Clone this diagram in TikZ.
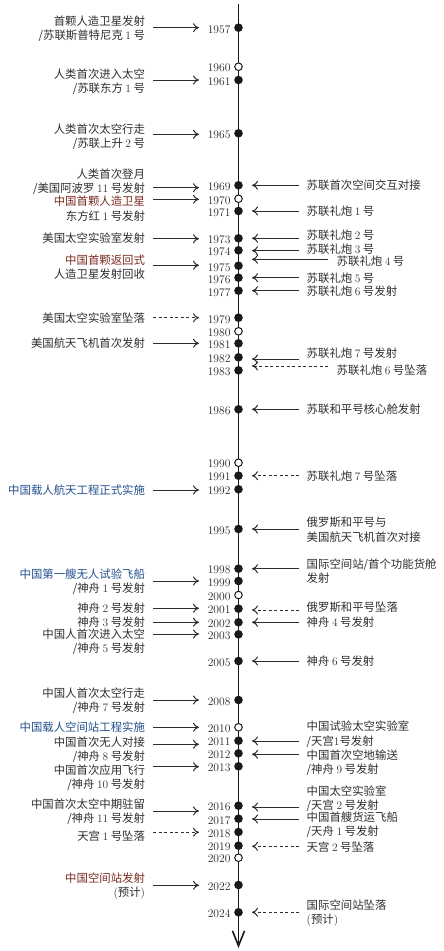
\documentclass[tikz,border=0pt]{standalone}
\usepackage{fontspec}
\newfontfamily\cjk{Noto Sans CJK SC}
\usetikzlibrary{arrows.meta}
\definecolor{txt}{HTML}{2E2E2E}
\definecolor{redc}{HTML}{7A2A1E}
\definecolor{bluec}{HTML}{24508C}
\newcommand\nm[1]{{\rmfamily #1}}
\newcommand\rc[1]{\textcolor{redc}{#1}}
\newcommand\bc[1]{\textcolor{bluec}{#1}}
\tikzset{
  every node/.style={inner sep=0pt, outer sep=0pt},
  ltxt/.style={anchor=east, align=right, text=txt, font={\cjk\fontsize{11.4}{14.2}\selectfont}},
  rtxt/.style={anchor=west, align=left, text=txt, font={\cjk\fontsize{11.4}{14.2}\selectfont}},
  yrlab/.style={anchor=east, text=black!85, font={\fontsize{11.6}{13}\selectfont}},
  fdot/.style={circle, fill=black!90, minimum size=8.6pt},
  odot/.style={circle, draw=black!90, fill=white, line width=1pt, minimum size=7.6pt},
  arr/.style={draw=txt, line width=1pt, -{To[length=6pt,width=9pt]}},
  darr/.style={arr, dash pattern=on 3pt off 2.5pt},
  axisln/.style={line width=1.6pt, draw=black!90, -{Straight Barb[length=15pt,width=12pt]}},
}
% left event: name, text y, arrow y, style, text
\newcommand\lev[5]{%
  \node[ltxt] (L#1) at (145,#2) {#5};
  \coordinate (La#1) at (153,#3);
  \coordinate (Lb#1) at (199,#3);
  \draw[#4] (La#1) -- (Lb#1);}
% right event: name, text x, text y, arrow start x, arrow y, style, text
\newcommand\rev[7]{%
  \node[rtxt] (R#1) at (#2,#3) {#7};
  \coordinate (Ra#1) at (#4,#5);
  \coordinate (Rb#1) at (252,#5);
  \draw[#6] (Ra#1) -- (Rb#1);}
\begin{document}
\begin{tikzpicture}[x=1pt,y=-1pt]
\useasboundingbox (0,0) rectangle (444,951);
% axis
\coordinate (top) at (238.5,4);
\coordinate (bot) at (238.5,948);
\draw[axisln] (top) -- (bot);
% filled years
\foreach \y/\yr in {27.7/1957, 80/1961, 133.3/1965, 185.3/1969, 211/1971, 238.3/1973,
  250.3/1974, 265.7/1975, 277.7/1976, 290.7/1977, 317.7/1979, 343.3/1981, 357.3/1982,
  370.3/1983, 409.3/1986, 475.7/1991, 489.3/1992, 529/1995, 568.7/1998, 581/1999,
  608.7/2001, 622.3/2002, 634.3/2003, 661/2005, 700/2008, 740.7/2011, 753.3/2012,
  766.3/2013, 805.7/2016, 818.7/2017, 832/2018, 845.7/2019, 885/2022, 912.3/2024}{
  \node[fdot] (d\yr) at (238.5,\y) {};
  \node[yrlab] (y\yr) at (230.5,\y+1.5) {\yr};
}
% hollow years
\foreach \y/\yr in {66.7/1960, 198.7/1970, 331.3/1980, 462.7/1990, 595/2000, 727.3/2010, 857.7/2020}{
  \node[odot] (d\yr) at (238.5,\y) {};
  \node[yrlab] (y\yr) at (230.5,\y+1.5) {\yr};
}
% left events
\lev{1957}{28.5}{27.7}{arr}{首颗人造卫星发射\\/苏联斯普特尼克 \nm{1} 号}
\lev{1961}{82}{80}{arr}{人类首次进入太空\\/苏联东方 \nm{1} 号}
\lev{1965}{136.5}{134.3}{arr}{人类首次太空行走\\/苏联上升 \nm{2} 号}
\lev{1969}{181.8}{187.7}{arr}{人类首次登月\\/美国阿波罗 \nm{11} 号发射}
\lev{1970}{208.7}{199.3}{arr}{\rc{中国首颗人造卫星}\\东方红 \nm{1} 号发射}
\lev{1973}{237.7}{238.7}{arr}{美国太空实验室发射}
\lev{1975}{266.8}{265.3}{arr}{\rc{中国首颗返回式}\\人造卫星发射回收}
\lev{1979}{317.7}{317.7}{darr}{美国太空实验室坠落}
\lev{1981}{343.3}{343.3}{arr}{美国航天飞机首次发射}
\lev{1992}{490}{490}{arr}{\bc{中国载人航天工程正式实施}}
\lev{1999}{582}{581}{arr}{\bc{中国第一艘无人试验飞船}\\/神舟 \nm{1} 号发射}
\lev{2001}{608.3}{608.3}{arr}{神舟 \nm{2} 号发射}
\lev{2002}{622.3}{622.3}{arr}{神舟 \nm{3} 号发射}
\lev{2003}{641.8}{634}{arr}{中国人首次进入太空\\/神舟 \nm{5} 号发射}
\lev{2008}{700.8}{700}{arr}{中国人首次太空行走\\/神舟 \nm{7} 号发射}
\lev{2010}{727.3}{727.3}{arr}{\bc{中国载人空间站工程实施}}
\lev{2011}{749.7}{744.3}{arr}{中国首次无人对接\\/神舟 \nm{8} 号发射}
\lev{2013}{777.5}{766.7}{arr}{中国首次应用飞行\\/神舟 \nm{10} 号发射}
\lev{2016}{811.7}{811}{arr}{中国首次太空中期驻留\\/神舟 \nm{11} 号发射}
\lev{2018}{836}{832.3}{darr}{天宫 \nm{1} 号坠落}
\lev{2022}{886}{885.3}{arr}{\rc{中国空间站发射}\\\nm{(}预计\nm{)}}
% right events
\rev{1969}{306.7}{185.3}{299}{185.3}{arr}{苏联首次空间交互对接}
\rev{1971}{306.7}{211}{299}{211}{arr}{苏联礼炮 \nm{1} 号}
\rev{1973}{306.7}{235}{299}{238.3}{arr}{苏联礼炮 \nm{2} 号}
\rev{1974}{306.7}{249.3}{299}{250.7}{arr}{苏联礼炮 \nm{3} 号}
\rev{1974b}{336.7}{261}{328}{259.3}{arr}{苏联礼炮 \nm{4} 号}
\rev{1976}{306.7}{277.7}{299}{277.7}{arr}{苏联礼炮 \nm{5} 号}
\rev{1977}{306.7}{290.7}{299}{290.7}{arr}{苏联礼炮 \nm{6} 号发射}
\rev{1982}{306.7}{352.7}{299}{359}{arr}{苏联礼炮 \nm{7} 号发射}
\rev{1982b}{336.7}{370}{328}{366}{darr}{苏联礼炮 \nm{6} 号坠落}
\rev{1986}{306.7}{409.3}{299}{409.3}{arr}{苏联和平号核心舱发射}
\rev{1991}{306.7}{475.7}{299}{475.7}{darr}{苏联礼炮 \nm{7} 号坠落}
\rev{1995}{306.7}{529.7}{299}{529}{arr}{俄罗斯和平号与\\美国航天飞机首次对接}
\rev{1998}{306.7}{571}{299}{568.7}{arr}{国际空间站/首个功能货舱\\发射}
\rev{2001}{306.7}{607.3}{299}{610}{darr}{俄罗斯和平号坠落}
\rev{2002}{306.7}{622.3}{299}{622.3}{arr}{神舟 \nm{4} 号发射}
\rev{2005}{306.7}{661}{299}{661}{arr}{神舟 \nm{6} 号发射}
\rev{2011}{306.7}{734.2}{299}{741}{arr}{中国试验太空实验室\\/天宫\nm{1}号发射}
\rev{2012}{306.7}{762.8}{299}{754.3}{arr}{中国首次空地输送\\/神舟 \nm{9} 号发射}
\rev{2016}{306.7}{798.8}{299}{807}{arr}{中国太空实验室\\/天宫 \nm{2} 号发射}
\rev{2017}{306.7}{824.8}{299}{819}{arr}{中国首艘货运飞船\\/天舟 \nm{1} 号发射}
\rev{2019}{306.7}{846.7}{299}{846.3}{darr}{天宫 \nm{2} 号坠落}
\rev{2024}{306.7}{912.8}{299}{912.3}{darr}{国际空间站坠落\\\nm{(}预计\nm{)}}
\end{tikzpicture}
\end{document}
